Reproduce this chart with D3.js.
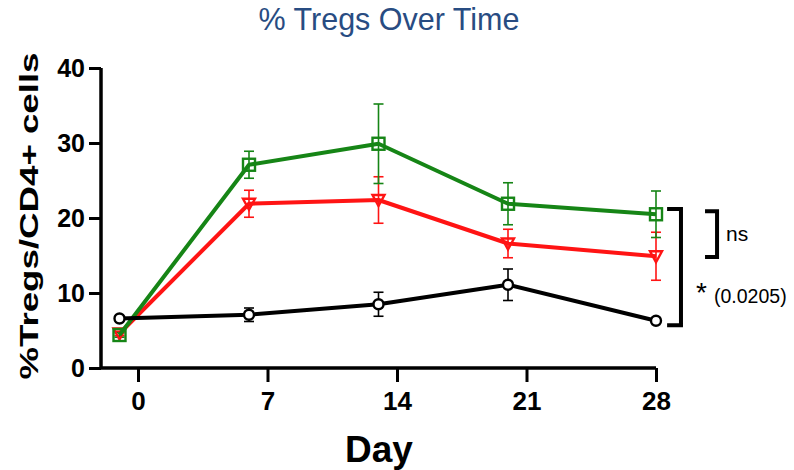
<!DOCTYPE html>
<html><head><meta charset="utf-8">
<script src="https://cdn.jsdelivr.net/npm/d3@7"></script>
<style>body{margin:0;background:#fff}svg{display:block}</style>
</head><body>
<svg id="c" width="794" height="470"></svg>
<script>
const days = [-1, 6, 13, 20, 28];
const xTicks = [0, 7, 14, 21, 28];
const yTicks = [0, 10, 20, 30, 40];
const blackMean = [6.6, 7.1, 8.5, 11.1, 6.3];
const blackErr  = [0.3, 0.9, 1.6, 2.1, 0.3];
const redMean   = [4.6, 21.9, 22.4, 16.6, 14.9];
const redErr    = [0.3, 1.8, 3.1, 1.9, 3.2];
const greenMean = [4.4, 27.1, 29.9, 21.9, 20.5];
const greenErr  = [0.3, 1.8, 5.3, 2.8, 3.1];
const seriesNames = ["red", "green", "black"];
const seriesColors = ["#ff1414", "#168516", "#000000"];
const seriesShapes = ["triangle", "square", "circle"];
const title = "% Tregs Over Time";
const yLabel = "%Tregs/CD4+ cells";
const xLabel = "Day";
// significance brackets: [topValue, bottomValue, dayLeft, dayRight]
const bigBracket = [21.2, 5.7, 28.6, 29.35];
const smallBracket = [20.9, 14.8, 30.65, 31.3];

const svg = d3.select("#c");
const x = d3.scaleLinear().domain([-2, 28]).range([101, 656]);
const y = d3.scaleLinear().domain([0, 40]).range([368, 68]);
const FF = "Liberation Sans, Arial, sans-serif";

// title
svg.append("text").attr("x", 389).attr("y", 30).attr("text-anchor", "middle")
  .attr("font-family", FF).attr("font-size", 30.5)
  .attr("fill", "#284c82").text(title);

// axes
const ax = svg.append("g").attr("transform", "translate(0,368)")
  .call(d3.axisBottom(x).tickValues(xTicks).tickSize(14).tickSizeOuter(0).tickPadding(5));
const ay = svg.append("g").attr("transform", "translate(101,0)")
  .call(d3.axisLeft(y).tickValues(yTicks).tickSize(12).tickSizeOuter(0).tickPadding(4));
[ax, ay].forEach(g => {
  g.select(".domain").attr("stroke", "#000").attr("stroke-width", 3.5);
  g.selectAll(".tick line").attr("stroke", "#000").attr("stroke-width", 3);
  g.selectAll(".tick text").attr("fill", "#000").attr("font-family", FF)
    .attr("font-weight", "bold");
});
ax.select(".domain").attr("d", `M${x(-2)},0H${x(28)}`);
ay.select(".domain").attr("d", `M0,${y(40)}V${y(0)}`);
ax.selectAll(".tick text").attr("font-size", 26).attr("dy", "0.88em");
ay.selectAll(".tick text").attr("font-size", 25);

// axis labels
svg.append("text").attr("transform", "translate(38,216) rotate(-90)").attr("text-anchor", "middle")
  .attr("font-family", FF).attr("font-weight", "bold")
  .attr("font-size", 25.5).attr("textLength", 327).attr("lengthAdjust", "spacingAndGlyphs").text(yLabel);
svg.append("text").attr("x", 379).attr("y", 462).attr("text-anchor", "middle")
  .attr("font-family", FF).attr("font-weight", "bold")
  .attr("font-size", 37).text(xLabel);

const series = [
  {mean: redMean, err: redErr},
  {mean: greenMean, err: greenErr},
  {mean: blackMean, err: blackErr}
];
const line = d3.line().x(d => x(d[0])).y(d => y(d[1]));

// error bars (drawn beneath)
series.forEach((s, i) => {
  const g = svg.append("g").attr("stroke", seriesColors[i]).attr("stroke-width", 1.6);
  days.forEach((d, j) => {
    const hi = y(s.mean[j] + s.err[j]), lo = y(s.mean[j] - s.err[j]), cx = x(d);
    g.append("line").attr("x1", cx).attr("x2", cx).attr("y1", hi).attr("y2", lo);
    g.append("line").attr("x1", cx - 5).attr("x2", cx + 5).attr("y1", hi).attr("y2", hi);
    g.append("line").attr("x1", cx - 5).attr("x2", cx + 5).attr("y1", lo).attr("y2", lo);
  });
});

// lines and markers
series.forEach((s, i) => {
  const pts = days.map((d, j) => [d, s.mean[j]]);
  svg.append("path").attr("d", line(pts)).attr("fill", "none")
    .attr("stroke", seriesColors[i]).attr("stroke-width", 4).attr("stroke-linejoin", "round");
  const mg = svg.append("g").attr("stroke", seriesColors[i]).attr("stroke-width", 2.4).attr("fill", "none");
  pts.forEach(p => {
    const cx = x(p[0]), cy = y(p[1]);
    if (seriesShapes[i] === "circle") {
      mg.append("circle").attr("cx", cx).attr("cy", cy).attr("r", 5).attr("fill", "#fff");
    } else if (seriesShapes[i] === "square") {
      mg.append("rect").attr("x", cx - 6).attr("y", cy - 6).attr("width", 12).attr("height", 12);
    } else {
      mg.append("path").attr("d", `M${cx-6},${cy-5}L${cx+6},${cy-5}L${cx},${cy+6}Z`);
    }
  });
});

// brackets
function bracket(b) {
  const top = y(b[0]), bot = y(b[1]), xl = x(b[2]), xr = x(b[3]);
  svg.append("path").attr("d", `M${xl},${top}H${xr}V${bot}H${xl}`)
    .attr("fill", "none").attr("stroke", "#000").attr("stroke-width", 4);
}
bracket(bigBracket);
bracket(smallBracket);
svg.append("text").attr("x", 726).attr("y", 241).attr("font-family", FF)
  .attr("font-size", 21).text("ns");
svg.append("text").attr("x", 696).attr("y", 302).attr("font-family", FF)
  .attr("font-size", 28).text("*");
svg.append("text").attr("x", 714).attr("y", 303).attr("font-family", FF)
  .attr("font-size", 19.5).text("(0.0205)");
</script>
</body></html>
